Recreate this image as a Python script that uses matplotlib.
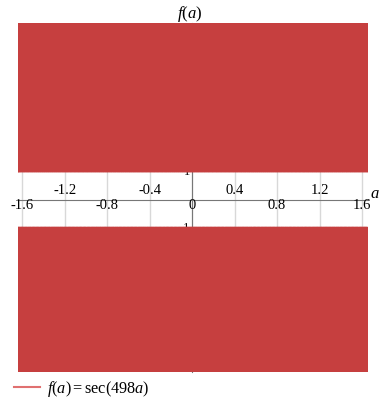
import numpy as np
import matplotlib
matplotlib.use("Agg")
import matplotlib.pyplot as plt
from matplotlib.lines import Line2D

plt.rcParams['font.family'] = ['Liberation Serif', 'DejaVu Serif']
plt.rcParams['mathtext.fontset'] = 'custom'
plt.rcParams['mathtext.rm'] = 'Liberation Serif'
plt.rcParams['mathtext.it'] = 'Liberation Serif:italic'

# function parameters
freq = 498
x_range = [-1.64, 1.655]
y_range = [-6.15, 6.3]
xticks_below = [-1.6, -0.8, 0, 0.8, 1.6]
xticks_above = [-1.2, -0.4, 0.4, 1.2]
yticks = [-1, 1]
color = '#c63f3f'

x = np.linspace(x_range[0], x_range[1], 400000)
c = np.cos(freq * x)
y = 1.0 / c
brk = np.zeros_like(y, dtype=bool)
brk[1:] = np.sign(c[1:]) != np.sign(c[:-1])
y[brk] = np.nan

fig = plt.figure(figsize=(3.84, 4.09), dpi=100)
ax = fig.add_axes([0.047, 0.0905, 0.911, 0.8535])
ax.set_xlim(*x_range)
ax.set_ylim(*y_range)

for t in xticks_below + xticks_above:
    ax.axvline(t, color='#d8d8d8', lw=1.0, zorder=0)

ax.plot(x, y, color=color, lw=1.5, zorder=2)

for s in ['top', 'right']:
    ax.spines[s].set_visible(False)
ax.spines['left'].set_position(('data', 0))
ax.spines['bottom'].set_position(('data', 0))
ax.spines['left'].set_color('#777777')
ax.spines['bottom'].set_color('#777777')
ax.spines['left'].set_zorder(1)
ax.set_xticks([])
ax.set_yticks([])

for t in xticks_below:
    ax.text(t, -0.2, f'{t:g}', ha='center', va='center', fontsize=10.5, zorder=3)
for t in xticks_above:
    ax.text(t, 0.32, f'{t:g}', ha='center', va='center', fontsize=10.5, zorder=3)
for t in yticks:
    ax.text(-0.02, t, f'{t:g}', ha='right', va='center', fontsize=9, zorder=1)

ax.text(1.675, 0.2, '$a$', fontsize=12, ha='left', va='center', transform=ax.transData, clip_on=False)
fig.text(0.495, 0.966, '$f(a)$', fontsize=12, ha='center', va='center')

handle = Line2D([0], [0], color='#e07070', lw=1.5)
fig.legend([handle], ['$f(a) = \\mathrm{sec}(498a)$'], loc='center left',
           bbox_to_anchor=(0.024, 0.049), frameon=False, fontsize=11.7,
           handlelength=1.6, handletextpad=0.4, borderaxespad=0.0, borderpad=0.3)

fig.savefig('out.png', dpi=100)
